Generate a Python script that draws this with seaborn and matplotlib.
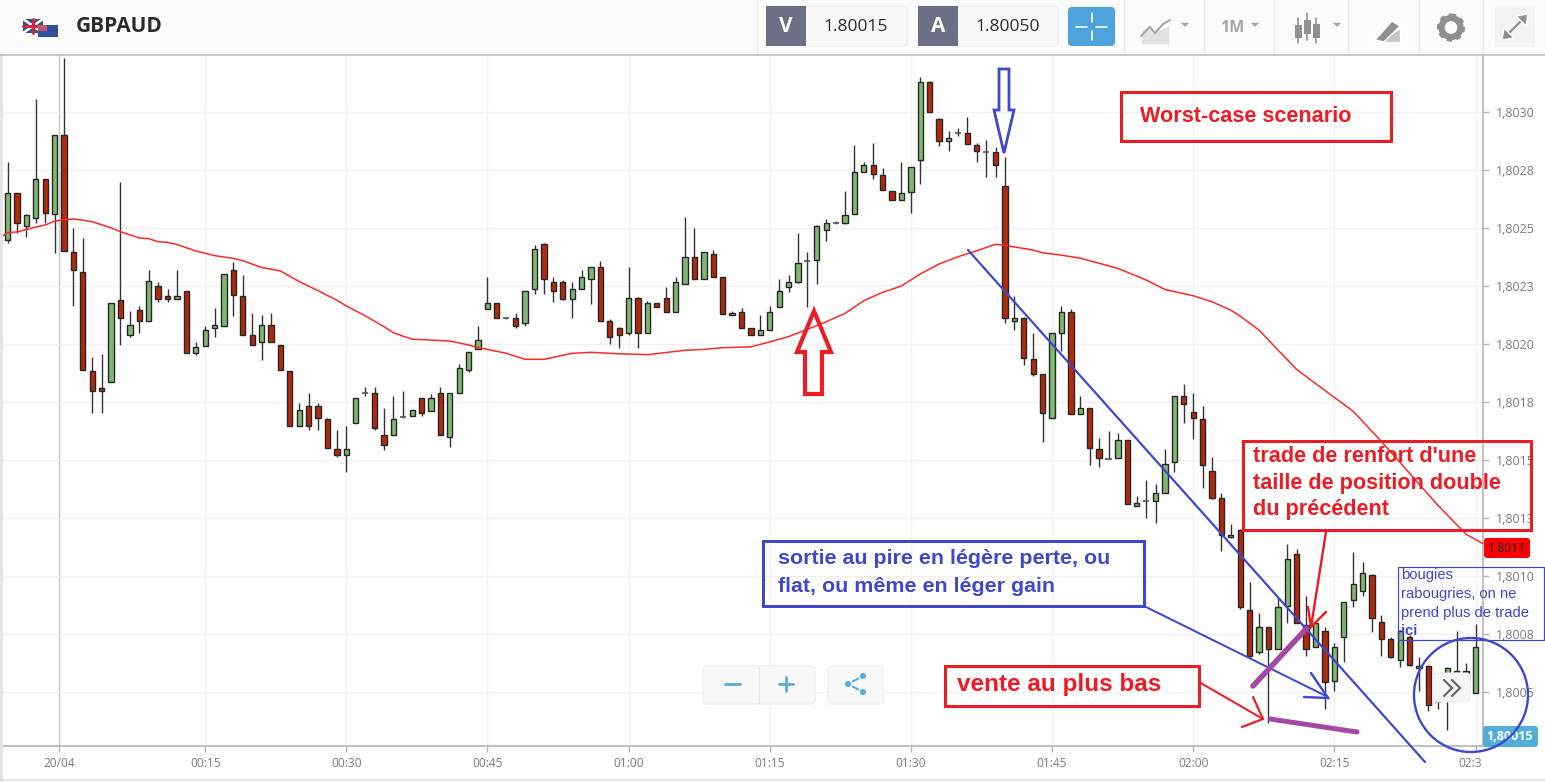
import numpy as np
import pandas as pd
import matplotlib
matplotlib.use("Agg")
import matplotlib.pyplot as plt
from matplotlib.patches import Rectangle, Polygon, Circle, FancyBboxPatch
from matplotlib.transforms import ScaledTranslation
import seaborn as sns

# pips above 1.8000, one candle per minute; minute 0 is 00:00 on 20/04
minutes = list(range(-7, 151))
opens = [24.48,24.48,26.49,25.10,25.41,27.10,25.62,28.99,23.98,23.10,18.85,18.09,18.37,21.88,20.37,21.46,21.00,22.48,22.08,21.95,
22.28,19.62,19.91,20.67,20.79,23.20,22.07,20.39,20.07,20.80,19.97,18.85,16.48,17.35,17.35,16.75,15.47,15.20,16.58,17.89,
17.87,16.08,16.08,16.84,16.89,17.67,17.10,17.87,15.98,17.87,18.88,19.80,21.49,21.78,21.09,21.11,20.89,22.38,24.30,22.69,
22.69,21.92,22.38,22.79,23.30,21.00,20.70,20.46,21.98,20.49,21.78,21.97,21.39,22.59,23.76,22.80,23.86,22.89,21.25,21.36,
20.70,20.39,20.59,21.61,22.47,22.69,23.55,23.62,24.90,25.20,25.20,25.60,27.40,27.71,27.30,26.58,26.21,26.54,27.93,31.31,
29.71,28.73,29.09,29.11,28.59,28.27,28.29,26.81,21.00,21.12,19.36,18.70,16.79,20.48,21.36,16.99,17.25,15.47,15.03,15.08,
15.87,13.03,13.24,13.24,13.56,14.90,17.77,17.05,16.75,14.54,13.36,11.67,11.99,8.54,6.74,7.82,6.84,8.73,10.95,7.89,
6.96,7.62,5.46,7.38,8.96,9.36,10.03,8.04,7.27,6.38,7.39,6.03,6.14,4.59,5.23,5.52,5.92,4.95]
highs = [24.48,27.86,26.49,25.59,30.56,27.10,29.01,32.31,24.98,24.55,19.45,19.55,21.78,26.98,21.43,21.65,23.19,22.66,22.37,23.19,
22.28,20.07,20.77,21.55,23.02,23.55,22.97,21.35,21.25,21.35,19.97,18.85,17.44,17.87,17.44,16.79,16.29,16.48,17.67,18.16,
18.16,17.25,17.76,17.97,17.15,17.67,17.84,18.16,17.87,19.14,19.67,20.77,22.90,21.78,21.15,21.35,22.28,24.27,24.37,22.87,
22.76,22.69,23.19,23.33,23.56,21.06,20.75,23.30,22.04,21.87,21.78,22.47,22.90,25.49,24.98,23.98,24.05,22.90,21.44,21.55,
20.70,21.24,21.65,22.79,22.97,24.77,23.95,25.13,25.37,25.32,26.59,28.56,27.86,28.68,27.60,26.59,27.86,27.61,31.49,31.35,
29.73,29.19,29.29,29.80,28.65,28.79,28.48,28.04,22.07,21.15,20.46,18.70,20.48,21.66,21.53,17.77,17.25,15.96,16.26,16.17,
15.87,13.45,14.16,13.96,15.46,17.78,18.27,17.87,17.34,15.14,13.56,12.25,12.02,9.76,8.42,7.82,9.04,11.37,11.15,9.14,
7.96,7.82,7.13,8.90,11.02,10.62,10.09,8.32,7.36,7.68,7.46,6.53,6.17,4.66,6.10,7.61,6.24,7.92]
lows = [21.82,24.34,24.80,24.60,25.20,25.20,23.93,24.02,21.63,18.88,17.01,17.01,18.37,19.97,20.29,20.49,21.00,21.82,21.82,21.95,
19.61,19.52,19.91,20.29,20.79,21.20,20.37,19.97,19.31,20.07,18.88,16.48,16.48,16.29,16.29,15.50,15.11,14.50,16.58,17.76,
16.29,15.43,16.08,16.82,16.89,16.89,17.10,16.08,15.57,17.87,18.81,19.80,21.49,21.11,21.06,20.70,20.79,22.14,22.14,21.82,
21.90,21.11,22.38,21.72,21.00,19.98,19.83,20.39,19.83,20.49,21.61,21.39,21.39,22.59,22.80,22.80,22.90,21.29,21.24,20.69,
20.39,20.39,20.59,21.61,22.23,22.61,21.61,22.59,24.44,25.19,25.19,25.60,27.40,27.10,26.64,26.21,26.21,25.63,26.90,30.01,
28.53,28.33,28.96,28.62,27.83,27.21,27.21,20.89,20.60,19.09,18.62,15.77,16.79,19.71,16.99,16.98,14.78,14.68,15.03,15.08,
13.10,13.01,12.48,12.30,13.56,14.49,16.58,15.89,13.78,13.34,11.10,11.66,8.58,6.53,6.64,3.68,6.84,7.99,7.96,6.56,
6.96,4.27,5.06,6.28,8.68,9.16,7.58,6.56,6.46,6.10,6.13,5.06,4.19,4.27,3.37,5.23,5.23,4.95]
closes = [21.82,26.49,25.20,25.56,27.10,25.63,28.99,24.02,23.20,18.89,17.97,17.96,21.78,21.10,20.80,21.00,22.70,21.92,21.95,22.08,
19.61,19.88,20.59,20.80,23.00,22.12,20.37,19.97,20.80,20.07,18.88,16.48,17.15,16.48,16.79,15.50,15.20,15.47,17.67,17.91,
16.38,15.66,16.75,16.87,17.15,17.01,17.67,16.08,17.87,18.95,19.67,20.17,21.78,21.11,21.12,20.79,22.28,24.08,22.80,22.28,
21.92,22.38,22.89,23.30,21.00,20.29,20.39,21.98,20.49,21.78,21.61,21.39,22.69,23.76,22.80,23.98,22.90,21.31,21.35,20.69,
20.39,20.59,21.36,22.28,22.69,23.48,23.58,25.10,25.21,25.23,25.56,27.40,27.71,27.31,26.64,26.21,26.49,27.61,31.31,30.01,
28.75,28.89,29.12,28.62,28.33,28.30,27.71,21.11,21.12,19.41,18.69,17.01,20.48,21.36,16.99,17.25,15.51,15.10,15.05,15.87,
13.10,13.16,13.27,13.56,14.82,17.78,17.41,16.79,14.78,13.37,11.76,11.79,8.68,6.56,7.82,6.84,8.65,10.74,7.96,6.84,
7.96,5.45,6.96,8.87,9.66,10.13,8.21,7.27,6.50,7.65,6.18,6.14,4.44,4.56,6.03,5.92,5.45,6.96]

ma_minutes = [-7,-6,-5,-3,-2,-1,0,1,2,3,5,6,8,9,10,11,12,14,16,18,19,21,23,25,27,29,30,32,34,35,36,37,39,41,43,44,
47,49,51,54,56,59,62,66,68,70,73,75,77,79,81,83,85,87,89,91,93,95,97,99,100,
103,104,106,108,112,115,117,120,122,124,125,127,128,131,137,140,146,149,151]
ma_values = [24.51,24.80,24.83,25.04,25.13,25.29,25.36,25.39,25.34,25.27,25.01,24.84,24.57,24.54,24.41,24.38,24.29,24.01,23.81,23.69,23.59,23.30,23.15,22.69,22.30,21.89,21.64,21.22,20.75,20.49,20.34,20.21,20.17,20.13,19.96,19.85,
19.60,19.34,19.34,19.60,19.64,19.58,19.54,19.73,19.77,19.84,19.88,20.09,20.32,20.63,20.96,21.32,21.87,22.23,22.50,23.02,23.45,23.76,24.02,24.30,24.25,
24.05,23.93,23.83,23.70,23.26,22.76,22.35,22.08,21.82,21.46,21.20,20.60,20.17,18.90,17.10,15.80,13.05,11.80,11.35]

price_ticks = [5, 7.5, 10, 12.5, 15, 17.5, 20, 22.5, 25, 27.5, 30]
price_labels = ["1,8005", "1,8008", "1,8010", "1,8013", "1,8015", "1,8018", "1,8020", "1,8023", "1,8025", "1,8028", "1,8030"]
time_ticks = [-0.5, 15, 30, 45, 60, 75, 90, 105, 120, 135, 150]
time_labels = ["20/04", "00:15", "00:30", "00:45", "01:00", "01:15", "01:30", "01:45", "02:00", "02:15", "02:3"]

BASE, PIP = 1.8, 1e-4
GREEN, RED, EDGE = "#7fb870", "#b32a0b", "#262626"
ANN_RED, ANN_BLUE, ANN_PURPLE = "#ed1c24", "#3f48cc", "#a349a4"
TXT = "#7b7b7b"
W, H = 1545, 782

sns.set_theme(style="white")
plt.rcParams["font.family"] = ["Liberation Sans", "DejaVu Sans"]

df = pd.DataFrame({"minute": minutes, "open": opens, "high": highs, "low": lows, "close": closes})
for col in ["open", "high", "low", "close"]:
    df[col] = BASE + df[col] * PIP
ma = pd.DataFrame({"minute": ma_minutes, "ma": BASE + np.array(ma_values) * PIP})

fig = plt.figure(figsize=(W / 100, H / 100), dpi=100, facecolor="white")
ax = fig.add_axes([0, 1 - 746 / H, 1483 / W, (746 - 55) / H])
ax.set_facecolor("white")

# candles
up = df["close"] >= df["open"]
doji = (df["close"] - df["open"]).abs() < 0.045 * PIP
ax.vlines(df["minute"], df["low"], df["high"], color="#333333", lw=1.0, zorder=3)
solid = df[~doji]
ax.bar(solid["minute"], (solid["close"] - solid["open"]).abs(), bottom=solid[["open", "close"]].min(axis=1),
       width=0.56, color=[GREEN if u else RED for u in up[~doji]], edgecolor=EDGE, linewidth=1.0, zorder=4)
thin = df[doji]
ax.hlines((thin["open"] + thin["close"]) / 2, thin["minute"] - 0.32, thin["minute"] + 0.32, color="#555555", lw=1.2, zorder=4)

sns.lineplot(data=ma, x="minute", y="ma", ax=ax, color="#fb2a2a", lw=1.1, zorder=5, legend=False, errorbar=None)

ax.set_xlim((0 - 64) / 9.41, (1483 - 64) / 9.41)
ax.set_ylim(BASE + (30 - (746 - 112) * 0.0431) * PIP, BASE + (30 + (112 - 55) * 0.0431) * PIP)
ax.set_xlabel("")
ax.set_ylabel("")
ax.yaxis.tick_right()
ax.set_yticks([BASE + t * PIP for t in price_ticks])
ax.set_yticklabels(price_labels, fontfamily="Open Sans", fontsize=9.0, color=TXT)
ax.set_xticks(time_ticks)
ax.set_xticklabels(time_labels, fontfamily="Open Sans", fontsize=8.6, color=TXT)
ax.tick_params(axis="y", length=4, width=1, color="#b5b5b5", pad=5, right=True)
ax.tick_params(axis="x", length=4, width=1, color="#b5b5b5", pad=4, bottom=True)
ax.grid(True, color="#f1f1f1", lw=1.0, zorder=0)
ax.set_axisbelow(True)
ax.get_xgridlines()[0].set_color("#c8c8c8")
ax.get_xticklabels()[-1].set_transform(ax.get_xticklabels()[-1].get_transform()
                                       + ScaledTranslation(-5 / 100, 0, fig.dpi_scale_trans))
for s in ["top", "left"]:
    ax.spines[s].set_visible(False)
for s in ["right", "bottom"]:
    ax.spines[s].set_color("#b5b5b5")
    ax.spines[s].set_linewidth(1.2)

# overlay in screen pixels for the toolbar, buttons and hand-drawn notes
ov = fig.add_axes([0, 0, 1, 1], facecolor="none")
ov.set_xlim(0, W)
ov.set_ylim(H, 0)
ov.axis("off")

def rect(x0, y0, x1, y1, fc="none", ec="none", lw=1.0, z=6):
    ov.add_patch(Rectangle((x0, y0), x1 - x0, y1 - y0, facecolor=fc, edgecolor=ec, linewidth=lw, zorder=z))

def rbox(x0, y0, x1, y1, fc, ec="none", r=3, z=6):
    ov.add_patch(FancyBboxPatch((x0 + r, y0 + r), x1 - x0 - 2 * r, y1 - y0 - 2 * r, boxstyle=f"round,pad={r},rounding_size={r}",
                                facecolor=fc, edgecolor=ec, linewidth=0.8, zorder=z))

def line(xs, ys, color, lw, z=10):
    ov.plot(xs, ys, color=color, lw=lw * 0.72, solid_capstyle="round", solid_joinstyle="miter", zorder=z)

# toolbar
rect(0, 0, W, 54, fc="#fbfbfb")
line([0, W], [54.5, 54.5], "#bdbdbd", 1.6)
rect(0, 0, 3, H, fc="#e4e4e4", z=5.5)
line([0, W], [780, 780], "#dddddd", 1.5)
rect(23, 19, 43, 33, fc="#34508f", z=7)
line([23, 43], [19, 33], "white", 2.5, z=7.1)
line([23, 43], [33, 19], "white", 2.5, z=7.1)
line([33, 33], [19, 33], "#d2293a", 3, z=7.2)
line([23, 43], [26, 26], "#d2293a", 3, z=7.2)
rect(38, 25, 58, 37, fc="#2f4f9c", z=7.3)
rect(38, 25, 47, 31, fc="#c8556a", z=7.4)
ov.text(76, 27, "GBPAUD", fontfamily="Open Sans", fontweight="bold", fontsize=15, color="#2b2b2b", va="center", ha="left", zorder=8)

for x0, x1, x2, letter, val in [(766, 806, 907, "V", "1.80015"), (918, 958, 1058, "A", "1.80050")]:
    rbox(x0, 6, x2, 46, "#f9f9f9", "#ececec")
    rect(x0, 6, x1, 46, fc="#6b7086", z=7)
    ov.text((x0 + x1) / 2, 27, letter, color="white", fontfamily="Open Sans", fontweight="bold", fontsize=15, ha="center", va="center", zorder=8)
    ov.text(x1 + 50, 27, val, color="#2b2b2b", fontfamily="Open Sans", fontsize=12.5, ha="center", va="center", zorder=8)
rbox(1068, 7, 1115, 46, "#4ea3dd", r=4)
for a, b, c, d in [(1076, 1087, 26.5, 26.5), (1096, 1107, 26.5, 26.5), (1091.5, 1091.5, 13, 22), (1091.5, 1091.5, 31, 40)]:
    line([a, b], [c, d], "white", 1.6)
for x in [757, 1124, 1204, 1274, 1348, 1419, 1483]:
    line([x, x], [0, 54], "#ececec", 1.2, z=6.5)
GI = "#a6a6a6"
ov.add_patch(Polygon([(1141, 45), (1141, 30), (1150, 25), (1155, 32), (1170, 25), (1170, 45)], fc="#e2e2e2", zorder=7))
line([1141, 1150, 1155, 1163, 1170], [36, 27, 33, 24, 20], GI, 2)
for xc, yc in [(1185, 22), (1255, 22), (1337, 22)]:
    ov.add_patch(Polygon([(xc - 6, yc), (xc + 6, yc), (xc, yc + 6)], fc=GI, zorder=7))
ov.text(1232, 27.5, "1M", color=GI, fontfamily="Open Sans", fontweight="bold", fontsize=11.5, ha="center", va="center", zorder=8)
for x, y0, y1, a, b in [(1298, 18, 43, 25, 38), (1307, 13, 40, 20, 34), (1316, 18, 43, 24, 38)]:
    line([x, x], [y0, y1], "#8f8f8f", 1.6)
    rect(x - 3.5, a, x + 3.5, b, fc="#8f8f8f", z=7)
ov.add_patch(Polygon([(1375, 40), (1392, 21), (1400, 26), (1384, 42)], fc="#8f8f8f", zorder=7))
ov.add_patch(Polygon([(1378, 42), (1400, 42), (1400, 28)], fc="#c4c4c4", zorder=6.8))
ov.add_patch(Circle((1451, 27.5), 9.5, fc="none", ec="#8f8f8f", lw=4.5, zorder=7))
ov.add_patch(Circle((1451, 27.5), 12, fc="none", ec="#8f8f8f", lw=3, ls=(0, (1.2, 1.0)), zorder=7))
rect(1495, 7, 1535, 47, fc="#f3f3f3")
line([1503, 1527], [39, 15], "#8f8f8f", 2.2)
ov.add_patch(Polygon([(1528, 14), (1516, 16), (1526, 26)], fc="#8f8f8f", zorder=11))
ov.add_patch(Polygon([(1502, 40), (1514, 38), (1504, 28)], fc="#8f8f8f", zorder=11))

# zoom and share buttons, price tags
rbox(703, 666, 815, 704, "#f8f8f8", "#ededed")
line([759, 759], [666, 704], "#e6e6e6", 1.2, z=7)
line([725, 740], [684, 684], "#5aaedc", 2.8, z=7)
line([779, 793], [684, 684], "#5aaedc", 2.8, z=7)
line([786, 786], [677, 691], "#5aaedc", 2.8, z=7)
rbox(828, 666, 883, 704, "#f8f8f8", "#ededed")
line([863, 848, 863], [676, 684, 692], "#5aaedc", 2.0, z=7)
for cx, cy in [(863, 676), (848, 684), (863, 692)]:
    ov.add_patch(Circle((cx, cy), 3.8, fc="#5aaedc", zorder=7.5))
rbox(1433, 673, 1470, 702, "#f5f5f5", "#efefef")
for dx in [0, 8]:
    line([1444 + dx, 1452 + dx, 1444 + dx], [680, 688, 696], "#666666", 2.2, z=8)
rbox(1484, 538, 1530, 558, "#ff0000", r=3)
ov.text(1507, 549, "1,8011", color="#222222", fontfamily="Open Sans", fontsize=8.8, ha="center", va="center", zorder=8)
rbox(1483, 726, 1538, 747, "#52aed8", r=3)
ov.text(1510, 737, "1,80015", color="white", fontfamily="Open Sans", fontweight="bold", fontsize=9.0, ha="center", va="center", zorder=8)

# notes
def note_box(x0, y0, x1, y1, color, lw=3):
    rect(x0, y0, x1, y1, ec=color, lw=lw * 0.72, z=10)

def note(x, y, s, color, size, weight="bold"):
    ov.text(x, y, s, color=color, fontsize=size, fontweight=weight, fontfamily=["Liberation Sans", "DejaVu Sans"], ha="left", va="center", zorder=12)

note_box(1121, 92, 1391, 141, ANN_RED)
note(1140, 116, "Worst-case scenario", ANN_RED, 15.6)
ov.add_patch(Polygon([(999, 69), (1009, 69), (1009, 110), (1014, 110), (1004, 153), (994, 110), (999, 110)],
                     fc="none", ec=ANN_BLUE, lw=2.0, zorder=10))
ov.add_patch(Polygon([(805, 394), (822, 394), (822, 352), (831, 352), (814, 311), (797, 352), (805, 352)],
                     fc="none", ec=ANN_RED, lw=3.0, zorder=10))
line([968, 1425], [250, 762], ANN_BLUE, 2.2)
note_box(763, 541, 1144, 606, ANN_BLUE)
note(778, 558.5, "sortie au pire en légère perte, ou", ANN_BLUE, 15.4)
note(778, 586, "flat, ou même en léger gain", ANN_BLUE, 15.4)
line([1144, 1328], [606, 697], ANN_BLUE, 2)
line([1311, 1328, 1304], [673, 698, 697], ANN_BLUE, 2.4)
note_box(1243, 441, 1531, 530, ANN_RED)
note(1253, 456, "trade de renfort d'une", ANN_RED, 15.6)
note(1253, 483, "taille de position double", ANN_RED, 15.6)
note(1253, 510, "du précédent", ANN_RED, 15.6)
line([1326, 1311], [532, 627], ANN_RED, 2.4)
line([1308, 1311, 1326], [607, 627, 612], ANN_RED, 2.4)
line([1253, 1307], [686, 628], ANN_PURPLE, 5.5)
line([1270, 1357], [719, 732], ANN_PURPLE, 5.0)
note_box(945, 666, 1199, 706, ANN_RED)
note(957, 684, "vente au plus bas", ANN_RED, 17.5)
line([1199, 1263], [682, 719], ANN_RED, 2)
line([1253, 1263, 1242], [697, 719, 727], ANN_RED, 2.2)
note_box(1398, 567, 1544, 640, ANN_BLUE, lw=1.2)
note(1401, 575, "bougies", ANN_BLUE, 10.6, "normal")
note(1401, 594, "rabougries, on ne", ANN_BLUE, 10.6, "normal")
note(1401, 613, "prend plus de trade", ANN_BLUE, 10.6, "normal")
note(1401, 631, "ici", ANN_BLUE, 10.6)
ov.add_patch(Circle((1471, 695), 57, fc="none", ec=ANN_BLUE, lw=1.7, zorder=10))

fig.savefig("out.png", dpi=100, facecolor="white")
